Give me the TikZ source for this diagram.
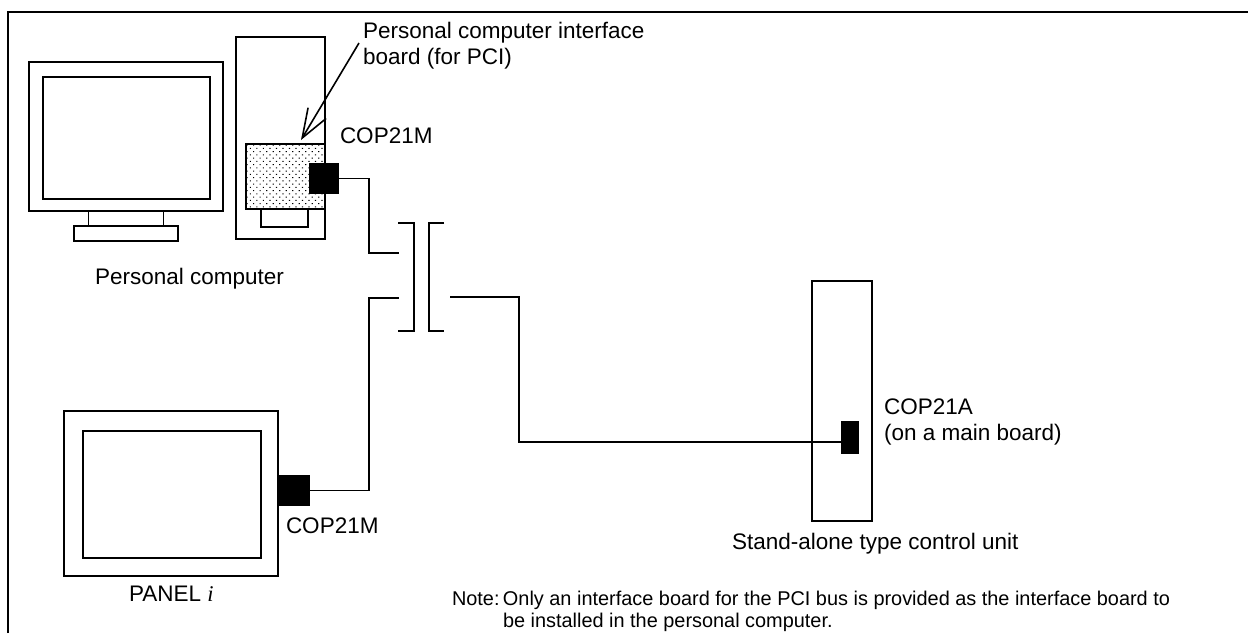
\documentclass[tikz,border=0pt]{standalone}
\usepackage{fontspec}
\setmainfont{Liberation Sans}
\usetikzlibrary{positioning,arrows.meta,patterns.meta}
\begin{document}
\begin{tikzpicture}[
  x=1pt, y=-1pt,
  every node/.style={align=left, inner sep=0pt, outer sep=0pt},
  box/.style={rectangle, draw, line width=1.8pt, fill=white},
  board/.style={rectangle, draw, line width=1.8pt, pattern={Dots[angle=45,distance=4.6pt,radius=0.75pt]}},
  plug/.style={rectangle, fill=black},
  lbl/.style={font=\fontsize{22.5}{26}\selectfont},
  notelbl/.style={font=\fontsize{19.9}{22}\selectfont},
  wire/.style={line width=1.6pt, line join=miter},
  leader/.style={line width=1.6pt, -{Straight Barb[length=29pt,width=21pt,line width=1.6pt]}}
]
\useasboundingbox (0,0) rectangle (1248,633);
% Frame
\coordinate (framebl) at (8,633);
\coordinate (frametl) at (8,12);
\coordinate (frametr) at (1248,12);
\draw[line width=2.4pt] (framebl) -- (frametl) -- (frametr);
% Personal computer: monitor
\node[box, minimum width=194pt, minimum height=149pt] (mon) at (126,136.5) {};
\node[box, minimum width=167pt, minimum height=122pt] (screen) at (126.5,138) {};
\node[box, minimum width=75pt, minimum height=15pt, below=0pt of mon] (neck) {};
\node[box, minimum width=104pt, minimum height=15pt, below=0pt of neck] (base) {};
\node[lbl, anchor=west] (pclbl) at (95,279) {Personal computer};
% Personal computer: tower
\node[box, minimum width=89pt, minimum height=202pt] (tower) at (280.5,138) {};
\node[box, minimum width=47pt, minimum height=18pt] (drive) at (284.5,218) {};
\node[board, minimum width=79pt, minimum height=65pt] (pcb) at (285.5,176.5) {};
\node[plug, minimum width=30pt, minimum height=31pt] (plugpc) at (324,178.5) {};
\node[lbl, anchor=west] (pclip) at (340,136) {COP21M};
\node[lbl, anchor=west] (pcblbl) at (363,46) {Personal computer interface\\board (for PCI)};
% Leader arrow
\coordinate (leadfrom) at (359,43);
\coordinate (leadto) at (301,140);
\draw[leader] (leadfrom) -- (leadto);
% Panel
\node[box, minimum width=214pt, minimum height=165pt] (panel) at (171,493.5) {};
\node[box, minimum width=178pt, minimum height=127pt] (pscreen) at (172,494.5) {};
\node[plug, minimum width=32pt, minimum height=31pt] (plugpanel) at (294,490.5) {};
\node[lbl, anchor=west] (paclip) at (286,526) {COP21M};
\node[lbl, anchor=west] (panellbl) at (129,594) {PANEL \textit{\fontspec{Liberation Serif}i}};
% Stand-alone unit
\node[box, minimum width=60pt, minimum height=240pt] (unit) at (842,401) {};
\node[plug, minimum width=18pt, minimum height=33pt] (plugunit) at (850,437.5) {};
\node[lbl, anchor=west] (uclip) at (884,422) {COP21A\\(on a main board)};
\node[lbl, anchor=west] (unitlbl) at (732,544) {Stand-alone type control unit};
% Note
\node[notelbl, anchor=west] (notetxt) at (452,611) {\makebox[51pt][l]{Note:}Only an interface board for the PCI bus is provided as the interface board to\\\hspace*{51pt}be installed in the personal computer.};
% Connector halves
\draw[wire] (398,223) -- (414,223) -- (414,331) -- (398,331);
\draw[wire] (444,223) -- (429,223) -- (429,331) -- (444,331);
% Wires
\coordinate (jogtop) at (369,253);
\coordinate (jointop) at (399,253);
\coordinate (jogbot) at (369,298);
\coordinate (joinbot) at (399,298);
\coordinate (joinout) at (450,297);
\coordinate (jogout) at (519,442);
\draw[wire] (plugpc.east) -| (jogtop) -- (jointop);
\draw[wire] (plugpanel.east) -| (jogbot) -- (joinbot);
\draw[wire] (joinout) -| (jogout) -- (plugunit.west |- jogout);
\end{tikzpicture}
\end{document}
